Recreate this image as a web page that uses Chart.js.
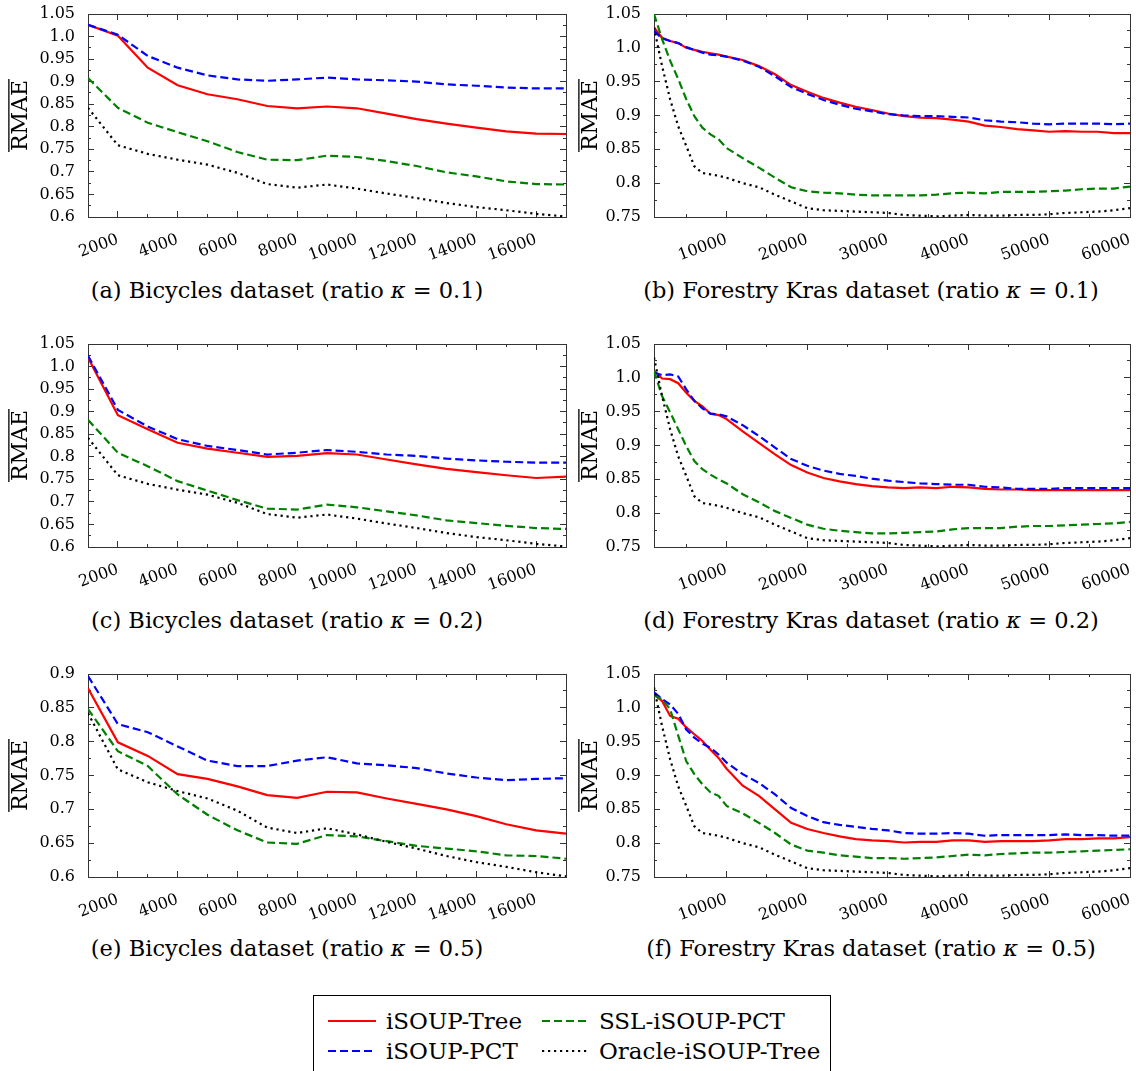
<!DOCTYPE html>
<html>
<head>
<meta charset="utf-8">
<script src="https://cdn.jsdelivr.net/npm/chart.js@4.4.0/dist/chart.umd.min.js"></script>
<style>
  body { margin: 0; background: #fff; }
  #fig { position: relative; width: 1136px; height: 1071px; overflow: hidden; font-family: 'DejaVu Serif', serif; color: #000; }
  #fig canvas { position: absolute; }
  .cap { position: absolute; text-align: center; font-size: 22.5px; line-height: 26px; white-space: nowrap; }
  #legend { position: absolute; left: 313px; top: 995px; width: 518px; height: 82px; border: 1px solid #000; box-sizing: border-box; font-size: 23px; }
  #legend .it { position: absolute; white-space: nowrap; line-height: 26px; }
  #legend svg { position: absolute; }
</style>
</head>
<body>
<div id="fig">
  <canvas id="cA" width="570" height="265" style="left:0;top:0"></canvas>
  <canvas id="cB" width="566" height="265" style="left:570px;top:0"></canvas>
  <canvas id="cC" width="570" height="265" style="left:0;top:330px"></canvas>
  <canvas id="cD" width="566" height="265" style="left:570px;top:330px"></canvas>
  <canvas id="cE" width="570" height="265" style="left:0;top:660px"></canvas>
  <canvas id="cF" width="566" height="265" style="left:570px;top:660px"></canvas>

  <div class="cap" style="left:0;top:277px;width:574px">(a) Bicycles dataset (ratio <i>κ</i> = 0.1)</div>
  <div class="cap" style="left:606px;top:277px;width:530px">(b) Forestry Kras dataset (ratio <i>κ</i> = 0.1)</div>
  <div class="cap" style="left:0;top:607px;width:574px">(c) Bicycles dataset (ratio <i>κ</i> = 0.2)</div>
  <div class="cap" style="left:606px;top:607px;width:530px">(d) Forestry Kras dataset (ratio <i>κ</i> = 0.2)</div>
  <div class="cap" style="left:0;top:935px;width:574px">(e) Bicycles dataset (ratio <i>κ</i> = 0.5)</div>
  <div class="cap" style="left:606px;top:935px;width:530px">(f) Forestry Kras dataset (ratio <i>κ</i> = 0.5)</div>

  <div id="legend"></div>
</div>

<script>
// ---------------------------------------------------------------------------
// Dades
// ---------------------------------------------------------------------------
const BIC_X = [1000, 2000, 3000, 4000, 5000, 6000, 7000, 8000, 9000, 10000,
               11000, 12000, 13000, 14000, 15000, 16000, 17000];
const FOR_X = [1000, 2000, 3000, 4000, 5000, 6000, 7000, 8000, 9000, 10000,
               12000, 14000, 16000, 18000, 20000, 22000, 24000, 26000, 28000, 30000,
               32000, 34000, 36000, 38000, 40000, 42000, 44000, 46000, 48000, 50000,
               52000, 54000, 56000, 58000, 60000];

// marques dels eixos (majors amb etiqueta, menors sense)
const BIC_X_TICKS = [2000, 4000, 6000, 8000, 10000, 12000, 14000, 16000];
const BIC_X_MINOR = [1000, 3000, 5000, 7000, 9000, 11000, 13000, 15000, 17000];
const FOR_X_TICKS = [10000, 20000, 30000, 40000, 50000, 60000];
const FOR_X_MINOR = [5000, 15000, 25000, 35000, 45000, 55000];
const BIC_Y_TICKS = [0.6, 0.65, 0.7, 0.75, 0.8, 0.85, 0.9, 0.95, 1.0, 1.05];
const BIC_Y_MINOR = [0.625, 0.675, 0.725, 0.775, 0.825, 0.875, 0.925, 0.975, 1.025];
const BIC_Y_TICKS_E = [0.6, 0.65, 0.7, 0.75, 0.8, 0.85, 0.9];
const BIC_Y_MINOR_E = [0.625, 0.675, 0.725, 0.775, 0.825, 0.875];
const FOR_Y_TICKS = [0.75, 0.8, 0.85, 0.9, 0.95, 1.0, 1.05];
const FOR_Y_MINOR = [0.775, 0.825, 0.875, 0.925, 0.975, 1.025];

// Bicycles
const bicTreeA = [1.026, 1.002, 0.931, 0.892, 0.872, 0.861, 0.846, 0.841, 0.845, 0.841, 0.829, 0.817, 0.807, 0.798, 0.790, 0.785, 0.784];
const bicPctA  = [1.026, 1.004, 0.957, 0.931, 0.914, 0.905, 0.902, 0.905, 0.909, 0.905, 0.903, 0.900, 0.894, 0.891, 0.887, 0.885, 0.885];
const bicSslA  = [0.908, 0.842, 0.809, 0.788, 0.768, 0.744, 0.727, 0.726, 0.736, 0.733, 0.724, 0.713, 0.699, 0.690, 0.679, 0.673, 0.672];

const bicTreeC = [1.020, 0.892, 0.861, 0.831, 0.818, 0.809, 0.800, 0.802, 0.808, 0.805, 0.794, 0.783, 0.773, 0.766, 0.759, 0.753, 0.756];
const bicPctC  = [1.024, 0.904, 0.867, 0.839, 0.824, 0.815, 0.805, 0.809, 0.815, 0.811, 0.805, 0.802, 0.796, 0.792, 0.789, 0.787, 0.787];
const bicSslC  = [0.882, 0.809, 0.779, 0.746, 0.725, 0.704, 0.685, 0.683, 0.694, 0.688, 0.679, 0.670, 0.659, 0.653, 0.647, 0.642, 0.640];

const bicTreeE = [0.879, 0.799, 0.779, 0.752, 0.745, 0.734, 0.721, 0.717, 0.726, 0.725, 0.716, 0.708, 0.700, 0.690, 0.678, 0.669, 0.664];
const bicPctE  = [0.897, 0.826, 0.814, 0.793, 0.772, 0.764, 0.764, 0.772, 0.777, 0.768, 0.765, 0.761, 0.753, 0.747, 0.743, 0.745, 0.746];
const bicSslE  = [0.848, 0.786, 0.764, 0.722, 0.692, 0.669, 0.651, 0.649, 0.662, 0.660, 0.653, 0.646, 0.642, 0.638, 0.632, 0.631, 0.627];

const bicOracle = [0.842, 0.759, 0.740, 0.727, 0.716, 0.698, 0.673, 0.665, 0.672, 0.663, 0.652, 0.642, 0.631, 0.622, 0.615, 0.607, 0.601];

// Forestry Kras
const forTreeB = [1.030, 1.015, 1.010, 1.007, 1.000, 0.997, 0.994, 0.992, 0.990, 0.987, 0.982, 0.973, 0.961, 0.945, 0.935, 0.926, 0.919, 0.913, 0.908, 0.903,
                  0.899, 0.897, 0.896, 0.894, 0.891, 0.885, 0.883, 0.880, 0.878, 0.876, 0.877, 0.876, 0.876, 0.874, 0.874];
const forPctB  = [1.025, 1.014, 1.010, 1.007, 1.001, 0.997, 0.993, 0.990, 0.989, 0.987, 0.981, 0.972, 0.958, 0.942, 0.932, 0.923, 0.916, 0.910, 0.906, 0.902,
                  0.900, 0.899, 0.899, 0.898, 0.897, 0.893, 0.891, 0.890, 0.888, 0.887, 0.888, 0.888, 0.888, 0.887, 0.888];
const forSslB  = [1.050, 1.013, 0.981, 0.954, 0.924, 0.899, 0.882, 0.872, 0.865, 0.852, 0.837, 0.823, 0.808, 0.794, 0.788, 0.786, 0.785, 0.783, 0.782, 0.782,
                  0.782, 0.782, 0.783, 0.785, 0.786, 0.785, 0.787, 0.787, 0.787, 0.788, 0.789, 0.791, 0.792, 0.792, 0.795];

const forTreeD = [1.010, 0.999, 0.998, 0.992, 0.978, 0.966, 0.958, 0.947, 0.945, 0.939, 0.921, 0.904, 0.887, 0.871, 0.860, 0.852, 0.847, 0.843, 0.840, 0.838,
                  0.837, 0.838, 0.837, 0.839, 0.838, 0.836, 0.835, 0.835, 0.834, 0.834, 0.834, 0.834, 0.834, 0.834, 0.834];
const forPctD  = [1.008, 1.004, 1.005, 1.002, 0.983, 0.966, 0.955, 0.947, 0.946, 0.943, 0.930, 0.914, 0.897, 0.880, 0.870, 0.863, 0.858, 0.855, 0.851, 0.848,
                  0.846, 0.844, 0.843, 0.842, 0.842, 0.839, 0.838, 0.836, 0.836, 0.836, 0.837, 0.837, 0.837, 0.837, 0.837];
const forSslD  = [1.010, 0.973, 0.949, 0.924, 0.899, 0.877, 0.865, 0.857, 0.850, 0.844, 0.828, 0.816, 0.803, 0.793, 0.783, 0.777, 0.774, 0.772, 0.770, 0.770,
                  0.771, 0.772, 0.773, 0.776, 0.778, 0.778, 0.778, 0.780, 0.781, 0.781, 0.782, 0.783, 0.784, 0.785, 0.787];

const forTreeF = [1.020, 1.010, 0.988, 0.984, 0.971, 0.961, 0.951, 0.938, 0.926, 0.910, 0.885, 0.870, 0.850, 0.830, 0.821, 0.815, 0.810, 0.806, 0.804, 0.803,
                  0.801, 0.802, 0.802, 0.804, 0.804, 0.802, 0.803, 0.803, 0.803, 0.804, 0.806, 0.806, 0.807, 0.807, 0.809];
const forPctF  = [1.023, 1.013, 1.005, 0.991, 0.968, 0.956, 0.947, 0.941, 0.931, 0.919, 0.902, 0.889, 0.872, 0.852, 0.840, 0.831, 0.827, 0.824, 0.821, 0.819,
                  0.815, 0.814, 0.814, 0.815, 0.814, 0.811, 0.812, 0.812, 0.812, 0.812, 0.813, 0.812, 0.812, 0.811, 0.811];
const forSslF  = [1.018, 1.013, 0.998, 0.959, 0.921, 0.902, 0.887, 0.875, 0.870, 0.855, 0.844, 0.830, 0.815, 0.798, 0.789, 0.786, 0.782, 0.780, 0.778, 0.778,
                  0.777, 0.778, 0.779, 0.781, 0.783, 0.782, 0.784, 0.785, 0.786, 0.786, 0.787, 0.788, 0.789, 0.790, 0.791];

const forOracle = [1.030, 0.973, 0.924, 0.884, 0.855, 0.825, 0.815, 0.813, 0.811, 0.808, 0.800, 0.794, 0.783, 0.773, 0.763, 0.760, 0.759, 0.758, 0.757, 0.756,
                   0.753, 0.752, 0.751, 0.752, 0.753, 0.752, 0.752, 0.753, 0.753, 0.754, 0.756, 0.757, 0.758, 0.760, 0.763];

// ---------------------------------------------------------------------------
// Estils
// ---------------------------------------------------------------------------
const FONT = "'DejaVu Serif', serif";
const TITLE_SIZE = 22;
const TITLE_PAD = 8;
const AXIS_COLOR = '#333';

const SERIES = [
    { label: 'iSOUP-Tree',        color: '#ff0000', dash: [],     width: 2.2 },
    { label: 'iSOUP-PCT',         color: '#0000ff', dash: [8, 4], width: 2.2 },
    { label: 'SSL-iSOUP-PCT',     color: '#008000', dash: [8, 4], width: 2.2 },
    { label: 'Oracle-iSOUP-Tree', color: '#000000', dash: [2.2, 3.8], width: 2.2 }
];

function fmtY(v) {
    if (Math.abs(v - 1) < 1e-9) return '1.0';
    return String(+v.toFixed(2));
}

// Ratlla sobre el títol de l'eix (RMAE amb barra)
const overlinePlugin = {
    id: 'overline',
    afterDraw(chart) {
        const s = chart.scales.y;
        const ctx = chart.ctx;
        ctx.save();
        ctx.font = `${TITLE_SIZE}px ${FONT}`;
        const w = ctx.measureText('RMAE').width;
        const x = s.left + TITLE_PAD + TITLE_SIZE * 1.2 / 2 - TITLE_SIZE * 0.56;
        const yc = (chart.chartArea.top + chart.chartArea.bottom) / 2;
        ctx.strokeStyle = '#000';
        ctx.lineWidth = 1.3;
        ctx.beginPath();
        ctx.moveTo(x, yc - w / 2 - 1);
        ctx.lineTo(x, yc + w / 2 + 1);
        ctx.stroke();
        ctx.restore();
    }
};

// eix auxiliar sense etiquetes: només vora i marques cap a dins
function markAxis(position, min, max, ticks, len, weight, showBorder) {
    const horiz = position === 'top' || position === 'bottom';
    return {
        type: 'linear', position: position, min: min, max: max, weight: weight,
        afterBuildTicks: s => { s.ticks = ticks.map(v => ({ value: v })); },
        afterFit: s => {
            if (horiz) s.height = 0; else s.width = 0;
            s.paddingLeft = 0; s.paddingRight = 0; s.paddingTop = 0; s.paddingBottom = 0;
        },
        ticks: { display: false },
        grid: { drawOnChartArea: false, tickLength: -len, color: AXIS_COLOR },
        border: { display: showBorder, color: AXIS_COLOR, width: 1 }
    };
}

function makePanel(id, xs, values, xTicks, xMinor, yTicks, yMinor, yWidth, padRight) {
    const xMin = xs[0], xMax = xs[xs.length - 1];
    const yMin = yTicks[0], yMax = yTicks[yTicks.length - 1];

    const datasets = SERIES.map((s, k) => ({
        label: s.label,
        data: xs.map((x, i) => ({ x: x, y: values[k][i] })),
        borderColor: s.color,
        backgroundColor: s.color,
        borderWidth: s.width,
        borderDash: s.dash,
        borderCapStyle: 'butt',
        pointRadius: 0,
        tension: 0,
        fill: false,
        order: 3 - k
    }));

    const grid = { drawOnChartArea: false, tickLength: -6, color: AXIS_COLOR };
    const border = { color: AXIS_COLOR, width: 1 };

    new Chart(document.getElementById(id), {
        type: 'line',
        data: { datasets: datasets },
        options: {
            responsive: false,
            animation: false,
            devicePixelRatio: 1,
            layout: { padding: { top: 14, right: padRight, left: 0, bottom: 0 } },
            plugins: { legend: { display: false }, tooltip: { enabled: false } },
            scales: {
                x: {
                    type: 'linear', min: xMin, max: xMax,
                    afterBuildTicks: s => { s.ticks = xTicks.map(v => ({ value: v })); },
                    afterFit: s => { s.height = 48; s.paddingLeft = 0; s.paddingRight = 0; },
                    ticks: {
                        minRotation: 20, maxRotation: 20, padding: 19, autoSkip: false,
                        color: '#000', font: { family: FONT, size: 16 },
                        callback: v => String(v)
                    },
                    grid: grid, border: border
                },
                xMinor: markAxis('bottom', xMin, xMax, xMinor, 3, -1, false),
                x2: markAxis('top', xMin, xMax, xTicks, 6, 0, true),
                x2Minor: markAxis('top', xMin, xMax, xMinor, 3, -1, false),
                y: {
                    type: 'linear', min: yMin, max: yMax,
                    afterBuildTicks: s => { s.ticks = yTicks.map(v => ({ value: v })); },
                    afterFit: s => { s.width = yWidth; s.paddingTop = 0; s.paddingBottom = 0; },
                    ticks: {
                        padding: 19, color: '#000', font: { family: FONT, size: 16 },
                        callback: v => fmtY(v)
                    },
                    grid: grid, border: border,
                    title: {
                        display: true, text: 'RMAE', color: '#000',
                        font: { family: FONT, size: TITLE_SIZE },
                        padding: { top: TITLE_PAD, bottom: 0 }
                    }
                },
                yMinor: markAxis('left', yMin, yMax, yMinor, 3, -1, false),
                y2: markAxis('right', yMin, yMax, yTicks, 6, 0, true),
                y2Minor: markAxis('right', yMin, yMax, yMinor, 3, -1, false)
            }
        },
        plugins: [overlinePlugin]
    });
}

makePanel('cA', BIC_X, [bicTreeA, bicPctA, bicSslA, bicOracle], BIC_X_TICKS, BIC_X_MINOR, BIC_Y_TICKS, BIC_Y_MINOR, 88, 4);
makePanel('cB', FOR_X, [forTreeB, forPctB, forSslB, forOracle], FOR_X_TICKS, FOR_X_MINOR, FOR_Y_TICKS, FOR_Y_MINOR, 84, 6);
makePanel('cC', BIC_X, [bicTreeC, bicPctC, bicSslC, bicOracle], BIC_X_TICKS, BIC_X_MINOR, BIC_Y_TICKS, BIC_Y_MINOR, 88, 4);
makePanel('cD', FOR_X, [forTreeD, forPctD, forSslD, forOracle], FOR_X_TICKS, FOR_X_MINOR, FOR_Y_TICKS, FOR_Y_MINOR, 84, 6);
makePanel('cE', BIC_X, [bicTreeE, bicPctE, bicSslE, bicOracle], BIC_X_TICKS, BIC_X_MINOR, BIC_Y_TICKS_E, BIC_Y_MINOR_E, 88, 4);
makePanel('cF', FOR_X, [forTreeF, forPctF, forSslF, forOracle], FOR_X_TICKS, FOR_X_MINOR, FOR_Y_TICKS, FOR_Y_MINOR, 84, 6);

// ---------------------------------------------------------------------------
// Llegenda compartida (dues columnes, com a l'original)
// ---------------------------------------------------------------------------
const LEGEND_POS = [
    { line: [14, 25], text: [72, 12] },
    { line: [14, 55], text: [72, 42] },
    { line: [228, 25], text: [285, 12] },
    { line: [228, 55], text: [285, 42] }
];
const legend = document.getElementById('legend');
SERIES.forEach((s, k) => {
    const p = LEGEND_POS[k];
    const ns = 'http://www.w3.org/2000/svg';
    const svg = document.createElementNS(ns, 'svg');
    svg.setAttribute('width', '48');
    svg.setAttribute('height', '6');
    svg.style.left = p.line[0] + 'px';
    svg.style.top = (p.line[1] - 3) + 'px';
    const ln = document.createElementNS(ns, 'line');
    ln.setAttribute('x1', '0'); ln.setAttribute('y1', '3');
    ln.setAttribute('x2', '48'); ln.setAttribute('y2', '3');
    ln.setAttribute('stroke', s.color);
    ln.setAttribute('stroke-width', s.width);
    if (s.dash.length) ln.setAttribute('stroke-dasharray', s.dash.join(' '));
    svg.appendChild(ln);
    legend.appendChild(svg);

    const t = document.createElement('div');
    t.className = 'it';
    t.style.left = p.text[0] + 'px';
    t.style.top = p.text[1] + 'px';
    t.textContent = s.label;
    legend.appendChild(t);
});
</script>
</body>
</html>
